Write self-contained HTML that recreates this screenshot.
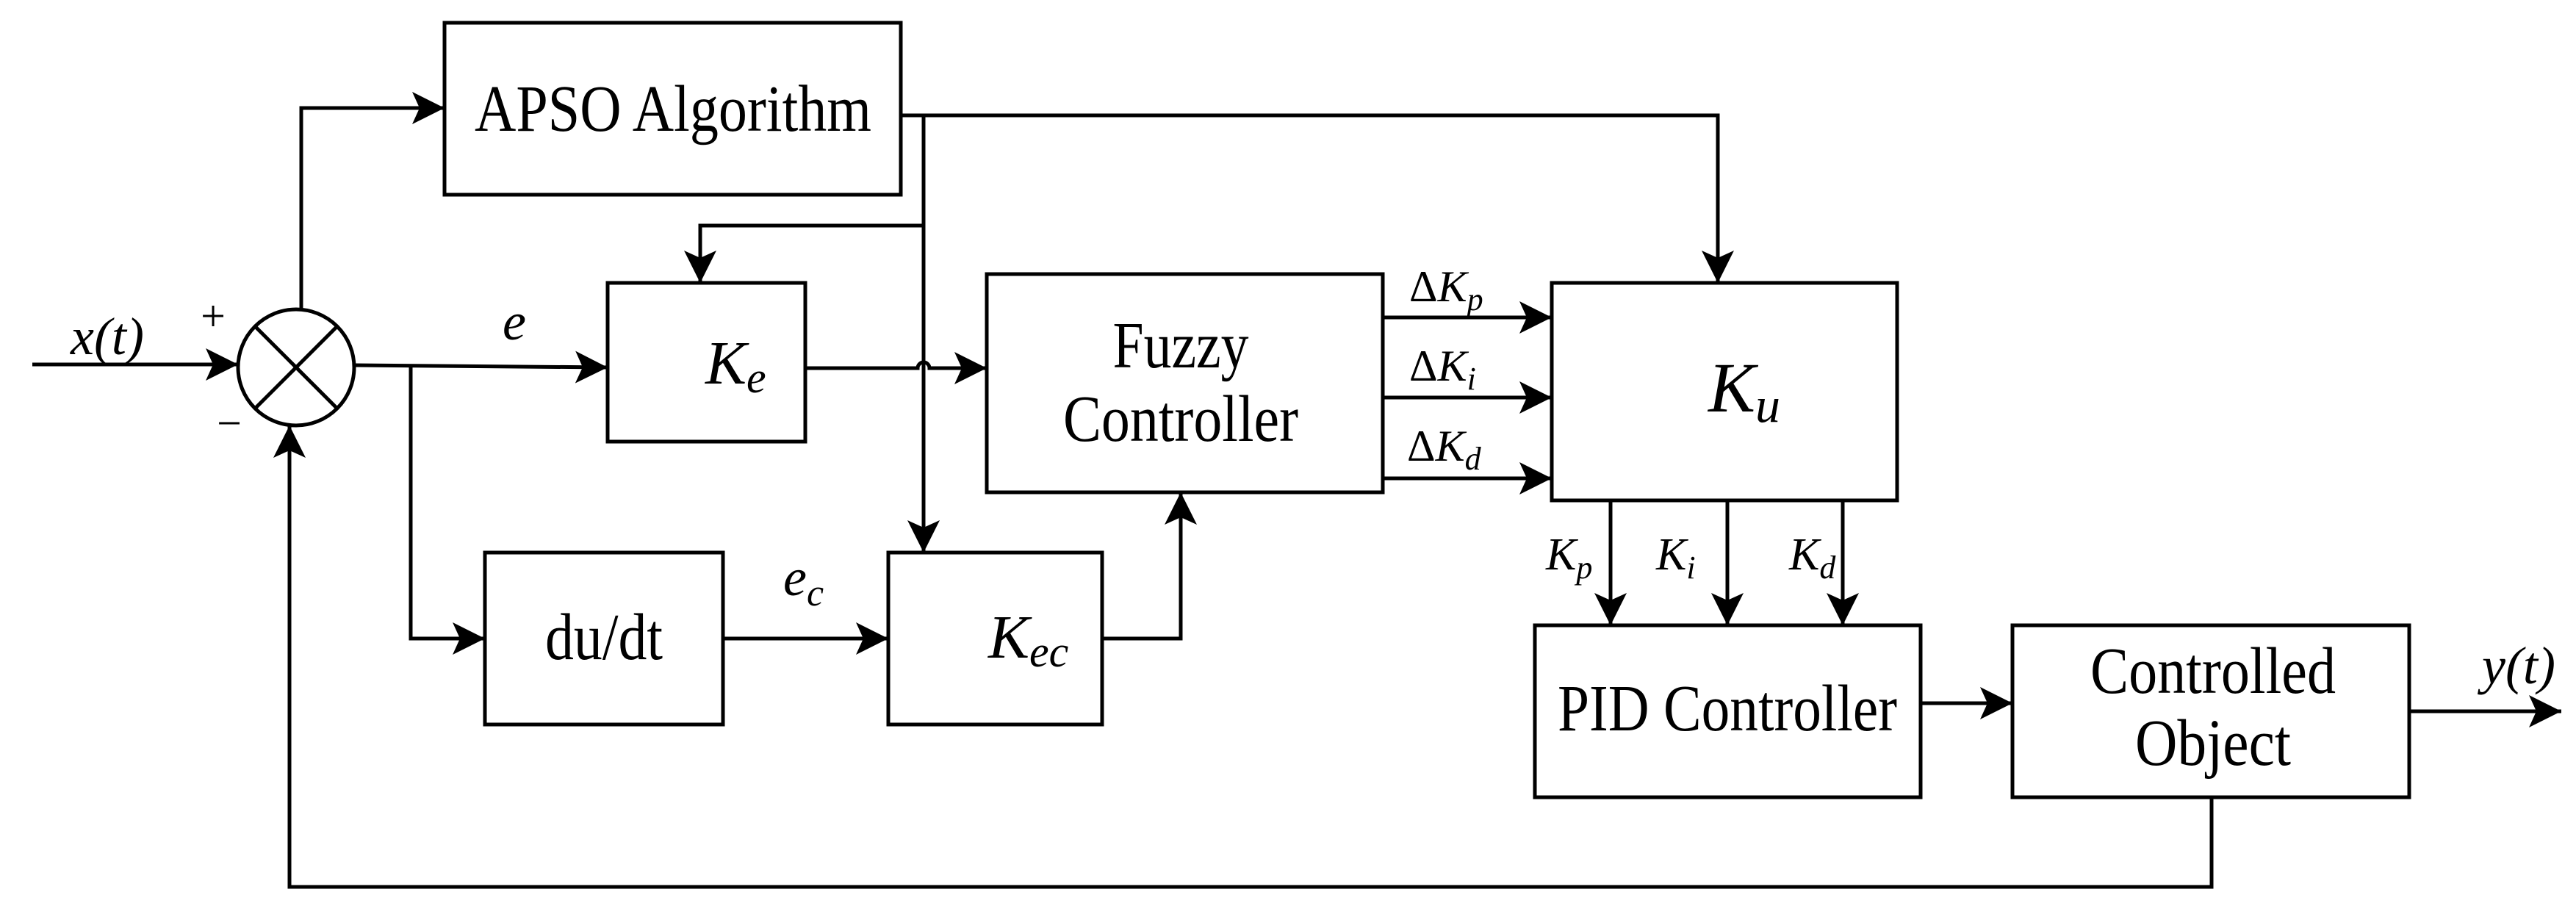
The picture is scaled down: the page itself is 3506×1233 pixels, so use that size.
<!DOCTYPE html>
<html><head><meta charset="utf-8"><style>
html,body{margin:0;padding:0;background:#fff;}
svg{display:block;}
text{font-family:"Liberation Serif","DejaVu Serif","Times New Roman",serif;}
</style></head><body>
<svg width="3506" height="1233" viewBox="0 0 3506 1233" xmlns="http://www.w3.org/2000/svg">
<defs>
<marker id="a" markerUnits="userSpaceOnUse" markerWidth="46" markerHeight="46" refX="44" refY="22" orient="auto">
<path d="M0,0 L44,22 L0,44 L10,22 Z" fill="#000"/>
</marker>
</defs>
<g fill="none" stroke="#000" stroke-width="5">
<rect x="605" y="31" width="621" height="234"/>
<rect x="827" y="385" width="269" height="216"/>
<rect x="1343" y="373" width="539" height="297"/>
<rect x="660" y="752" width="324" height="234"/>
<rect x="1209" y="752" width="291" height="234"/>
<rect x="2112" y="385" width="470" height="296"/>
<rect x="2089" y="851" width="525" height="234"/>
<rect x="2739" y="851" width="540" height="234"/>
<circle cx="403" cy="500" r="79"/>
<line x1="347" y1="444" x2="459" y2="556"/>
<line x1="459" y1="444" x2="347" y2="556"/>
<line x1="44" y1="496" x2="324" y2="496" marker-end="url(#a)"/>
<polyline points="410,421 410,147 605,147" marker-end="url(#a)"/>
<line x1="482" y1="497" x2="827" y2="500" marker-end="url(#a)"/>
<polyline points="559,497 559,869 660,869" marker-end="url(#a)"/>
<path d="M1096,501 L1249,501 A8,8 0 0 1 1265,501 L1343,501" marker-end="url(#a)"/>
<polyline points="1226,157 2338,157 2338,385" marker-end="url(#a)"/>
<line x1="1257" y1="157" x2="1257" y2="752" marker-end="url(#a)"/>
<polyline points="1257,307 953,307 953,385" marker-end="url(#a)"/>
<line x1="984" y1="869" x2="1209" y2="869" marker-end="url(#a)"/>
<polyline points="1500,869 1607,869 1607,670" marker-end="url(#a)"/>
<line x1="1882" y1="432" x2="2112" y2="432" marker-end="url(#a)"/>
<line x1="1882" y1="541" x2="2112" y2="541" marker-end="url(#a)"/>
<line x1="1882" y1="651" x2="2112" y2="651" marker-end="url(#a)"/>
<line x1="2192" y1="681" x2="2192" y2="851" marker-end="url(#a)"/>
<line x1="2351" y1="681" x2="2351" y2="851" marker-end="url(#a)"/>
<line x1="2508" y1="681" x2="2508" y2="851" marker-end="url(#a)"/>
<line x1="2614" y1="957" x2="2739" y2="957" marker-end="url(#a)"/>
<line x1="3279" y1="968" x2="3486" y2="968" marker-end="url(#a)"/>
<polyline points="3010,1085 3010,1207 394,1207 394,579" marker-end="url(#a)"/>
</g>
<g font-size="90" fill="#000">
<text x="916" y="178" text-anchor="middle" textLength="540" lengthAdjust="spacingAndGlyphs">APSO Algorithm</text>
<text x="1607" y="500" text-anchor="middle" textLength="185" lengthAdjust="spacingAndGlyphs">Fuzzy</text>
<text x="1607" y="600" text-anchor="middle" textLength="320" lengthAdjust="spacingAndGlyphs">Controller</text>
<text x="822" y="897" text-anchor="middle" textLength="160" lengthAdjust="spacingAndGlyphs">du/dt</text>
<text x="2351" y="994" text-anchor="middle" textLength="462" lengthAdjust="spacingAndGlyphs">PID Controller</text>
<text x="3012" y="943" text-anchor="middle" textLength="334" lengthAdjust="spacingAndGlyphs">Controlled</text>
<text x="3012" y="1041" text-anchor="middle" textLength="212" lengthAdjust="spacingAndGlyphs">Object</text>
</g>
<g font-style="italic" fill="#000">
<text x="960" y="522" font-size="84">K<tspan font-size="60" dy="12">e</tspan></text>
<text x="1345" y="895" font-size="84">K<tspan font-size="60" dy="12">ec</tspan></text>
<text x="2325" y="560" font-size="96">K<tspan font-size="68" dy="14">u</tspan></text>
<text x="96" y="482" font-size="72">x(t)</text>
<text x="3378" y="930" font-size="72">y(t)</text>
<text x="684" y="462" font-size="72">e</text>
<text x="1066" y="810" font-size="72">e<tspan font-size="52" dy="14">c</tspan></text>
<text x="2104" y="775" font-size="62">K<tspan font-size="44" dy="12">p</tspan></text>
<text x="2254" y="775" font-size="62">K<tspan font-size="44" dy="12">i</tspan></text>
<text x="2435" y="775" font-size="62">K<tspan font-size="44" dy="12">d</tspan></text>
<text x="1918" y="410" font-size="60"><tspan font-style="normal">Δ</tspan>K<tspan font-size="44" dy="12">p</tspan></text>
<text x="1918" y="518" font-size="60"><tspan font-style="normal">Δ</tspan>K<tspan font-size="44" dy="12">i</tspan></text>
<text x="1915" y="627" font-size="60"><tspan font-style="normal">Δ</tspan>K<tspan font-size="44" dy="12">d</tspan></text>
</g>
<text x="290" y="450" font-size="60" text-anchor="middle">+</text>
<text x="312" y="596" font-size="60" text-anchor="middle">−</text>
</svg>
</body></html>
